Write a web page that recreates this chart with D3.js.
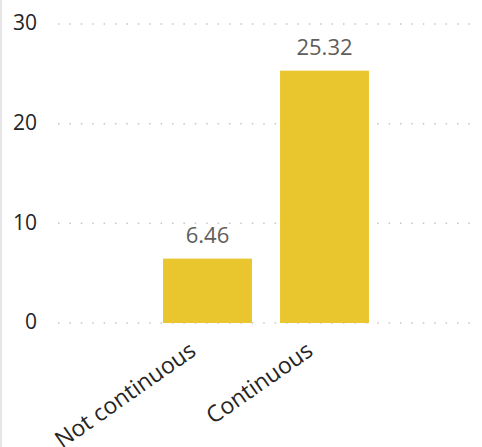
<!DOCTYPE html>
<html lang="en">
<head>
<meta charset="utf-8">
<title>Continuous vs not continuous</title>
<script src="https://cdn.jsdelivr.net/npm/d3@7"></script>
<style>
  body { margin: 0; overflow: hidden; background: #fff; }
  text { font-family: "Segoe UI", "Open Sans", sans-serif; }
  .tick text { font-size: 21px; fill: #252423; }
  .grid line { stroke: #c8c6c4; stroke-width: 1.5; stroke-dasharray: 1.5 9.9; }
  .data-label { font-size: 22px; fill: #605e5c; text-anchor: middle; }
  .cat-label { font-size: 23px; fill: #252423; text-anchor: end; }
</style>
</head>
<body>
<script>
// data
const categories = ["Not continuous", "Continuous"];
const values = [6.46, 25.32];
const yTicks = [0, 10, 20, 30];

const width = 482, height = 447;

const svg = d3.select("body").append("svg")
  .attr("width", width)
  .attr("height", height);

// light border on the left edge
svg.append("rect")
  .attr("x", 0).attr("y", 0)
  .attr("width", 2).attr("height", height)
  .attr("fill", "#e6e6e6");

const yScale = d3.scaleLinear()
  .domain([0, 30])
  .range([323, 24]);

const xScale = d3.scaleBand()
  .domain(categories)
  .range([149, 383])
  .paddingInner(0.24)
  .paddingOuter(0.12);

// gridlines
const grid = svg.append("g").attr("class", "grid");
grid.selectAll("line")
  .data(yTicks)
  .enter().append("line")
  .attr("x1", 58).attr("x2", 473)
  .attr("y1", d => yScale(d))
  .attr("y2", d => yScale(d));

// y axis labels
const yAxis = d3.axisLeft(yScale)
  .tickValues(yTicks)
  .tickSize(0)
  .tickPadding(0);

const yAxisG = svg.append("g")
  .attr("transform", "translate(37,0)")
  .call(yAxis);
yAxisG.select(".domain").remove();
yAxisG.selectAll("text").attr("dy", "0.27em");

// bars
svg.selectAll("rect.bar")
  .data(values)
  .enter().append("rect")
  .attr("class", "bar")
  .attr("x", (d, i) => xScale(categories[i]))
  .attr("y", d => yScale(d))
  .attr("width", xScale.bandwidth())
  .attr("height", d => yScale(0) - yScale(d))
  .attr("fill", "#e9c62e");

// data labels
svg.selectAll("text.data-label")
  .data(values)
  .enter().append("text")
  .attr("class", "data-label")
  .attr("x", (d, i) => xScale(categories[i]) + xScale.bandwidth() / 2)
  .attr("y", d => yScale(d) - 16)
  .text(d => d3.format(".2f")(d));

// category labels, rotated
svg.selectAll("text.cat-label")
  .data(categories)
  .enter().append("text")
  .attr("class", "cat-label")
  .attr("transform", d => {
    const cx = xScale(d) + xScale.bandwidth() / 2 - 10;
    return `translate(${cx},354) rotate(-35)`;
  })
  .text(d => d);
</script>
</body>
</html>
